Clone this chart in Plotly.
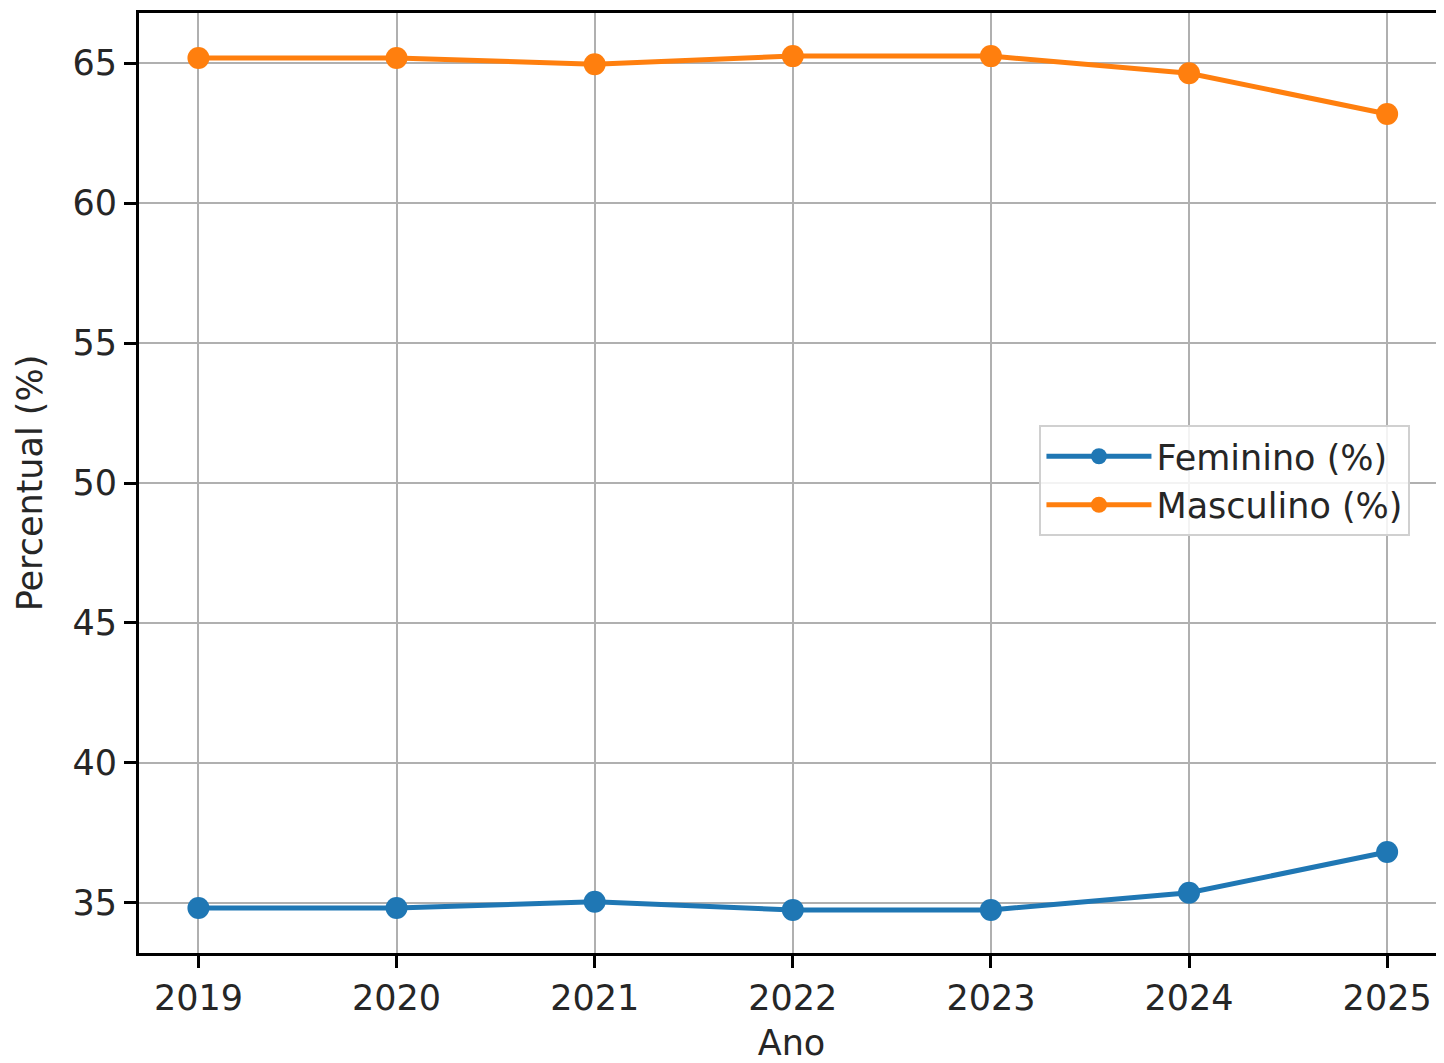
import plotly.graph_objects as go

anos = [2019, 2020, 2021, 2022, 2023, 2024, 2025]
feminino = [34.82, 34.82, 35.04, 34.75, 34.75, 35.36, 36.82]
masculino = [65.18, 65.18, 64.96, 65.25, 65.25, 64.64, 63.18]
y_ticks = [35, 40, 45, 50, 55, 60, 65]

FONT = "DejaVu Sans"
FS = 35
fig = go.Figure()
fig.add_trace(go.Scatter(x=anos, y=feminino, mode="lines+markers", name="Feminino (%)",
                         line=dict(color="#1f77b4", width=5), marker=dict(size=22, color="#1f77b4")))
fig.add_trace(go.Scatter(x=anos, y=masculino, mode="lines+markers", name="Masculino (%)",
                         line=dict(color="#ff7f0e", width=5), marker=dict(size=22, color="#ff7f0e")))

fig.update_layout(
    width=1436, height=1055,
    margin=dict(l=131, r=0, t=5, b=110),
    paper_bgcolor="white", plot_bgcolor="white",
    font=dict(family=FONT, size=FS, color="#262626"),
    showlegend=True,
    legend=dict(x=0.69, y=0.5617, xanchor="left", yanchor="top",
                bgcolor="rgba(255,255,255,0.85)", bordercolor="#d0d0d0", borderwidth=2,
                font=dict(family=FONT, size=FS, color="#262626"), itemwidth=105),
    xaxis=dict(range=[2018.7, 2025.287], tickvals=anos, ticktext=[str(a) for a in anos],
               showgrid=True, gridcolor="#b0b0b0", gridwidth=2.2,
               showline=True, linecolor="black", linewidth=2.8, mirror=True,
               ticks="outside", ticklen=12, tickwidth=2.8, tickcolor="black",
               zeroline=False, tickfont=dict(size=FS),
               title=dict(text="Ano", font=dict(size=FS), standoff=16)),
    yaxis=dict(range=[33.21, 66.79], tickvals=y_ticks,
               showgrid=True, gridcolor="#b0b0b0", gridwidth=2.2,
               showline=True, linecolor="black", linewidth=2.8,
               ticks="outside", ticklen=12, tickwidth=2.8, tickcolor="black",
               zeroline=False, tickfont=dict(size=FS),
               title=dict(text="Percentual (%)", font=dict(size=FS), standoff=20)),
)

fig.write_html("out.html")
